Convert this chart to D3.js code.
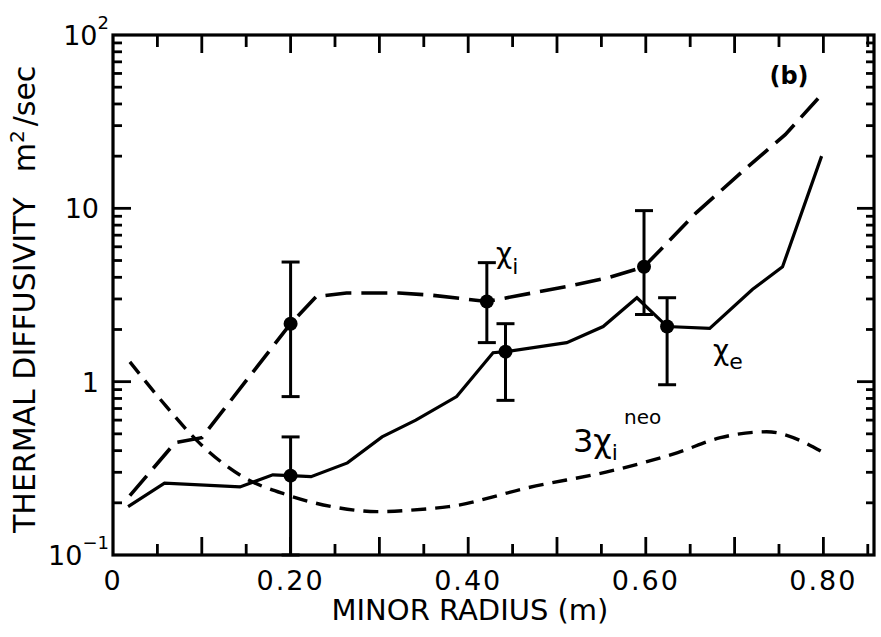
<!DOCTYPE html>
<html>
<head>
<meta charset="utf-8">
<script src="https://cdn.jsdelivr.net/npm/d3@7"></script>
<style>
  body { margin:0; background:#fff; overflow:hidden; }
  svg { display:block; }
  text { font-family: "DejaVu Sans", sans-serif; fill:#000; }
</style>
</head>
<body>
<div id="chart"></div>
<script>
// chi_e (solid line), minor radius in m vs m^2/sec
var chiE_r   = [0.017, 0.058, 0.143, 0.180, 0.200, 0.223, 0.264, 0.303, 0.341, 0.387, 0.428, 0.442, 0.511, 0.552, 0.590, 0.624, 0.672, 0.720, 0.754, 0.798];
var chiE_val = [0.19,  0.26,  0.247, 0.29,  0.287, 0.283, 0.34,  0.48,  0.60,  0.82,  1.47,  1.49,  1.68,  2.08,  3.05,  2.08,  2.03,  3.4,   4.6,   20];

// chi_i (long dashes)
var chiI_r   = [0.019, 0.070, 0.100, 0.200, 0.229, 0.263, 0.322, 0.360, 0.421, 0.516, 0.558, 0.598, 0.657, 0.715, 0.757, 0.794];
var chiI_val = [0.22,  0.445, 0.475, 2.16,  3.1,   3.25,  3.25,  3.15,  2.9,   3.58,  3.98,  4.6,   9.45,  17.4,  26.6,  43];

// 3 chi_i neo (short dashes)
var neo_r   = [0.019, 0.060, 0.094, 0.146, 0.195, 0.247, 0.297, 0.356, 0.378, 0.468, 0.566, 0.636, 0.684, 0.736, 0.800];
var neo_val = [1.3,   0.72,  0.46,  0.283, 0.223, 0.19,  0.178, 0.185, 0.19,  0.245, 0.31,  0.39,  0.475, 0.514, 0.39];

// measured points with error bars
var ptI_r  = [0.200, 0.421, 0.598];
var ptI_v  = [2.16,  2.9,   4.6];
var ptI_lo = [0.82,  1.68,  2.44];
var ptI_hi = [4.9,   4.86,  9.7];

var ptE_r  = [0.200, 0.442, 0.624];
var ptE_v  = [0.287, 1.49,  2.08];
var ptE_lo = [0.1,   0.78,  0.96];
var ptE_hi = [0.48,  2.16,  3.05];

var xTickVals   = [0, 0.2, 0.4, 0.6, 0.8];
var xTickLabels = ["0", "0.20", "0.40", "0.60", "0.80"];
var yTickVals   = [0.1, 1, 10, 100];
var yTickBase   = ["10", "1", "10", "10"];
var yTickExp    = ["\u22121", "", "", "2"];

var margin = { left:113, right:7, top:35, bottom:82 };
var width = 881 - margin.left - margin.right;
var height = 637 - margin.top - margin.bottom;

var svg = d3.select("#chart")
    .append("svg")
    .attr("width", 881)
    .attr("height", 637);

svg.append("rect").attr("width", 881).attr("height", 637).attr("fill", "#fff");

var g = svg.append("g")
    .attr("transform", "translate(" + margin.left + "," + margin.top + ")");

var xScale = d3.scaleLinear().domain([0, 0.857]).range([0, width]);
var yScale = d3.scaleLog().domain([0.1, 100]).range([height, 0]);

// frame
g.append("rect")
    .attr("width", width)
    .attr("height", height)
    .attr("fill", "none")
    .attr("stroke", "#000")
    .attr("stroke-width", 3.2);

// inward ticks on all four sides
var majorX = d3.range(1, 9).map(function(i){ return i / 10; });
var minorX = d3.range(0, 9).map(function(i){ return i / 10 + 0.05; });
var minorY = [];
[0.1, 1, 10].forEach(function(d){
  for (var k = 2; k <= 9; k++) minorY.push(d * k);
});
var majorY = [1, 10];

var tickG = g.append("g");

function drawXTicks(vals, len, atTop) {
  tickG.selectAll(null).data(vals).enter().append("line")
      .attr("x1", function(d){ return xScale(d); })
      .attr("x2", function(d){ return xScale(d); })
      .attr("y1", atTop ? 0 : height)
      .attr("y2", atTop ? len : height - len)
      .attr("stroke", "#000")
      .attr("stroke-width", 2.8);
}
function drawYTicks(vals, len, atRight) {
  tickG.selectAll(null).data(vals).enter().append("line")
      .attr("y1", function(d){ return yScale(d); })
      .attr("y2", function(d){ return yScale(d); })
      .attr("x1", atRight ? width : 0)
      .attr("x2", atRight ? width - len : len)
      .attr("stroke", "#000")
      .attr("stroke-width", 2.8);
}
drawXTicks(majorX, 18, false);
drawXTicks(minorX, 11, false);
drawXTicks(majorX, 18, true);
drawXTicks(minorX, 12, true);
drawYTicks(majorY, 18, false);
drawYTicks(minorY, 9, false);
drawYTicks(majorY, 17, true);
drawYTicks(minorY, 8, true);

// x tick labels
g.selectAll(".xlab")
    .data(xTickVals)
  .enter().append("text")
    .attr("class", "xlab")
    .attr("x", function(d){ return xScale(d); })
    .attr("y", height + 35)
    .attr("text-anchor", "middle")
    .style("font-size", "27px")
    .style("letter-spacing", "2px")
    .text(function(d, i){ return xTickLabels[i]; });

// y tick labels
yTickVals.forEach(function(v, i){
  var t = svg.append("text")
      .attr("x", yTickExp[i] ? 109 : 99)
      .attr("y", margin.top + yScale(v) + 10)
      .attr("text-anchor", "end")
      .style("font-size", "27px");
  t.append("tspan").text(yTickBase[i]);
  if (yTickExp[i]) {
    t.append("tspan")
        .attr("dy", -16)
        .style("font-size", "18px")
        .text(yTickExp[i]);
  }
});

// axis titles
svg.append("text")
    .attr("x", 470)
    .attr("y", 620)
    .attr("text-anchor", "middle")
    .style("font-size", "29px")
    .text("MINOR RADIUS (m)");

var yt = svg.append("text")
    .attr("transform", "translate(35,533) rotate(-90)")
    .style("font-size", "30px");
yt.append("tspan").text("THERMAL DIFFUSIVITY");
yt.append("tspan").attr("dx", 25).text("m");
yt.append("tspan").attr("dy", -11).style("font-size", "20px").text("2");
yt.append("tspan").attr("dy", 11).attr("dx", 4).text("/sec");

// curves
function pairs(rs, vs) {
  return rs.map(function(r, i){ return { r:r, v:vs[i] }; });
}
var lineGen = d3.line()
    .x(function(d){ return xScale(d.r); })
    .y(function(d){ return yScale(d.v); });
var smoothGen = d3.line()
    .curve(d3.curveMonotoneX)
    .x(function(d){ return xScale(d.r); })
    .y(function(d){ return yScale(d.v); });

g.append("path")
    .datum(pairs(neo_r, neo_val))
    .attr("d", smoothGen)
    .attr("fill", "none")
    .attr("stroke", "#000")
    .attr("stroke-width", 3.4)
    .attr("stroke-dasharray", "15,9");

g.append("path")
    .datum(pairs(chiI_r, chiI_val))
    .attr("d", lineGen)
    .attr("fill", "none")
    .attr("stroke", "#000")
    .attr("stroke-width", 3.6)
    .attr("stroke-dasharray", "26,10");

g.append("path")
    .datum(pairs(chiE_r, chiE_val))
    .attr("d", lineGen)
    .attr("fill", "none")
    .attr("stroke", "#000")
    .attr("stroke-width", 3.2);

// error bars + points
function errorBars(rs, vs, lo, hi) {
  var d = rs.map(function(r, i){ return { r:r, v:vs[i], lo:lo[i], hi:hi[i] }; });
  var e = g.append("g").selectAll("g").data(d).enter().append("g");
  e.append("line")
      .attr("x1", function(d){ return xScale(d.r); })
      .attr("x2", function(d){ return xScale(d.r); })
      .attr("y1", function(d){ return yScale(d.lo); })
      .attr("y2", function(d){ return yScale(d.hi); })
      .attr("stroke", "#000").attr("stroke-width", 3);
  ["lo", "hi"].forEach(function(k){
    e.append("line")
        .attr("x1", function(d){ return xScale(d.r) - 9; })
        .attr("x2", function(d){ return xScale(d.r) + 9; })
        .attr("y1", function(d){ return yScale(d[k]); })
        .attr("y2", function(d){ return yScale(d[k]); })
        .attr("stroke", "#000").attr("stroke-width", 3);
  });
  e.append("circle")
      .attr("cx", function(d){ return xScale(d.r); })
      .attr("cy", function(d){ return yScale(d.v); })
      .attr("r", 7)
      .attr("fill", "#000");
}
errorBars(ptI_r, ptI_v, ptI_lo, ptI_hi);
errorBars(ptE_r, ptE_v, ptE_lo, ptE_hi);

// curve labels
var li = svg.append("text").attr("x", 496).attr("y", 263).style("font-size", "28px");
li.append("tspan").text("\u03c7");
li.append("tspan").attr("dy", 11).style("font-size", "22px").text("i");

var le = svg.append("text").attr("x", 713).attr("y", 360).style("font-size", "28px");
le.append("tspan").text("\u03c7");
le.append("tspan").attr("dy", 9).style("font-size", "22px").text("e");

var lneo = svg.append("text").attr("x", 573).attr("y", 452).style("font-size", "32px");
lneo.append("tspan").text("3\u03c7");
lneo.append("tspan").attr("dy", 8).style("font-size", "22px").text("i");
lneo.append("tspan").attr("dy", -36).attr("dx", 6).style("font-size", "20px").text("neo");

svg.append("text")
    .attr("x", 789)
    .attr("y", 84)
    .attr("text-anchor", "middle")
    .style("font-size", "24px")
    .style("font-weight", "bold")
    .text("(b)");
</script>
</body>
</html>
